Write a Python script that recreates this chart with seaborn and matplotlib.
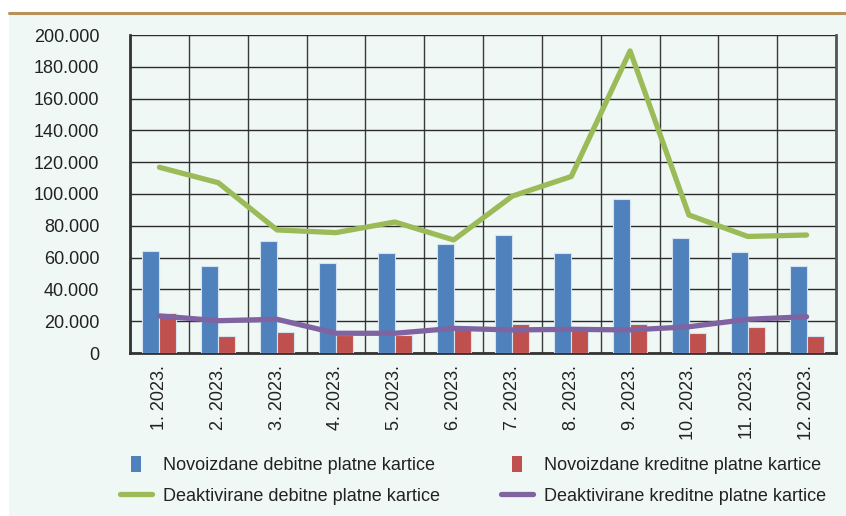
import pandas as pd
import seaborn as sns
import matplotlib.pyplot as plt
from matplotlib.patches import Rectangle
from matplotlib.lines import Line2D
from matplotlib.ticker import FuncFormatter, MultipleLocator, FixedLocator

# Data
months = ["1. 2023.", "2. 2023.", "3. 2023.", "4. 2023.", "5. 2023.", "6. 2023.",
          "7. 2023.", "8. 2023.", "9. 2023.", "10. 2023.", "11. 2023.", "12. 2023."]
new_debit = [64200, 54700, 70600, 56400, 63100, 68400, 74400, 63100, 96900, 72600, 63500, 54500]
new_credit = [25300, 10900, 13400, 11500, 11300, 17000, 18200, 16500, 18200, 12400, 16200, 10500]
deact_debit = [116800, 107100, 77400, 75700, 82400, 71100, 98700, 111000, 190000, 86800, 73300, 74200]
deact_credit = [23300, 20300, 21200, 12400, 12400, 15500, 14500, 14900, 14500, 16500, 21200, 22800]

labels = ["Novoizdane debitne platne kartice", "Novoizdane kreditne platne kartice",
          "Deaktivirane debitne platne kartice", "Deaktivirane kreditne platne kartice"]
colors = ["#4F81BD", "#C0504D", "#9BBB59", "#8064A2"]

bars = pd.DataFrame({
    "mjesec": months * 2,
    "broj": new_debit + new_credit,
    "serija": [labels[0]] * 12 + [labels[1]] * 12,
})

sns.set_theme(style="white")
plt.rcParams["font.family"] = ["Liberation Sans", "DejaVu Sans"]
fs = 13

mint = "#EFF8F5"
fig = plt.figure(figsize=(8.46, 5.16), dpi=100, facecolor="white")
fig.patches.append(Rectangle((9 / 846, 0), 1, 1 - 14 / 516, transform=fig.transFigure,
                             facecolor=mint, edgecolor="none", zorder=-10))
fig.lines.append(Line2D([9 / 846, 1], [1 - 13 / 516] * 2, transform=fig.transFigure,
                        color="#B8925A", lw=2.2))

ax = fig.add_axes([130 / 846, 1 - 353 / 516, 706 / 846, 318 / 516])
ax.set_facecolor(mint)

sns.barplot(data=bars, x="mjesec", y="broj", hue="serija", palette=colors[:2],
            saturation=1, width=0.58, gap=0, edgecolor="#d5e2f0", linewidth=0.8,
            ax=ax, legend=False, zorder=3)
sns.lineplot(x=months, y=deact_debit, color=colors[2], lw=3.8, sort=False, ax=ax,
             zorder=4, solid_capstyle="round")
sns.lineplot(x=months, y=deact_credit, color=colors[3], lw=3.8, sort=False, ax=ax,
             zorder=4, solid_capstyle="round")

ax.set_xlim(-0.5, 11.5)
ax.set_ylim(0, 200000)
ax.yaxis.set_major_locator(MultipleLocator(20000))
ax.yaxis.set_major_formatter(FuncFormatter(lambda v, p: f"{int(v):,}".replace(",", ".")))
ax.xaxis.set_minor_locator(FixedLocator([i + 0.5 for i in range(-1, 12)]))
ax.grid(axis="y", which="major", color="#2b2b2b", lw=1.0, zorder=0)
ax.grid(axis="x", which="minor", color="#3a3a3a", lw=1.0, zorder=0)
ax.grid(axis="x", which="major", visible=False)
ax.set_axisbelow(True)

for side in ["left", "bottom"]:
    ax.spines[side].set_color("#333333")
    ax.spines[side].set_linewidth(2)
ax.spines["right"].set_color("#555555")
ax.spines["right"].set_linewidth(2)
ax.spines["top"].set_visible(False)

ax.set_xlabel("")
ax.set_ylabel("")
ax.tick_params(axis="y", length=0, pad=22, labelsize=fs, colors="#222222")
ax.tick_params(axis="x", which="both", length=0, pad=9, labelsize=fs, colors="#222222")
plt.setp(ax.get_xticklabels(), rotation=90, va="top", ha="center")

bar_marker = [(-0.32, -0.5), (0.32, -0.5), (0.32, 0.5), (-0.32, 0.5)]
handles = [
    Line2D([], [], ls="", marker=bar_marker, ms=12, color=colors[0], markeredgewidth=0),
    Line2D([], [], color=colors[2], lw=3.8),
    Line2D([], [], ls="", marker=bar_marker, ms=12, color=colors[1], markeredgewidth=0),
    Line2D([], [], color=colors[3], lw=3.8),
]
leg_labels = [labels[0], labels[2], labels[1], labels[3]]
fig.legend(handles, leg_labels, ncol=2, frameon=False, loc="upper left",
           bbox_to_anchor=(104 / 846, 1 - 441 / 516), fontsize=fs,
           handlelength=1.75, handletextpad=0.6, columnspacing=3.4, labelspacing=0.75,
           labelcolor="#222222")

fig.savefig("out.png", dpi=100, facecolor=fig.get_facecolor())
